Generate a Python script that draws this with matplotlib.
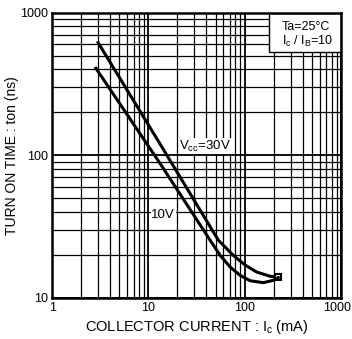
import matplotlib
matplotlib.use('Agg')
from matplotlib import pyplot as plt
from matplotlib import transforms
from matplotlib.patches import Rectangle
from matplotlib.ticker import FixedLocator, NullFormatter

plt.rcParams['font.family'] = ['Liberation Sans', 'DejaVu Sans']

# (Ic in mA, ton in ns)
ic_30v = [3.0, 12.2, 53.2, 76, 101, 133, 183, 223]
ton_30v = [616, 131, 25.4, 19.9, 17.0, 15.2, 14.2, 14.0]
ic_10v = [2.85, 13.2, 43.7, 55.5, 70.4, 89.5, 114, 156, 198, 223]
ton_10v = [407, 87.7, 25.4, 19.9, 16.5, 14.4, 13.2, 12.8, 13.3, 13.9]

x_ticks = [1, 10, 100, 1000]
y_ticks = [10, 100, 1000]

fig = plt.figure(figsize=(3.52, 3.39), dpi=100)
ax = fig.add_axes([0.148, 0.121, 0.821, 0.842])
ax.set_xscale('log')
ax.set_yscale('log')
ax.set_xlim(1, 1000)
ax.set_ylim(10, 1000)

minors = [m * d for d in (1, 10, 100) for m in range(2, 10)]
ax.xaxis.set_minor_locator(FixedLocator(minors))
ax.yaxis.set_minor_locator(FixedLocator([m for m in minors if m >= 10]))
ax.xaxis.set_minor_formatter(NullFormatter())
ax.yaxis.set_minor_formatter(NullFormatter())
ax.set_xticks(x_ticks)
ax.set_xticklabels([str(v) for v in x_ticks])
ax.set_yticks(y_ticks)
ax.set_yticklabels([str(v) for v in y_ticks])
ax.tick_params(which='both', length=0, labelsize=9, pad=3)

# last x label sits at the figure edge, keep it inside
last = ax.get_xticklabels()[-1]
last.set_horizontalalignment('right')
last.set_transform(last.get_transform() + transforms.ScaledTranslation(0.1, 0, fig.dpi_scale_trans))

ax.grid(which='major', color='black', lw=1.3)
ax.grid(which='minor', color='black', lw=0.9)
ax.set_axisbelow(True)
for s in ax.spines.values():
    s.set_linewidth(1.8)

ax.plot(ic_30v, ton_30v, color='black', lw=2.2, zorder=3,
        marker='s', markevery=[len(ic_30v) - 1], ms=4, mfc='white', mew=1.5)
ax.plot(ic_10v, ton_10v, color='black', lw=2.2, zorder=3)

# condition box in the top right corner
ax.add_patch(Rectangle((0.751, 0.861), 0.249, 0.139, transform=ax.transAxes,
                       facecolor='white', edgecolor='black', lw=1.0, zorder=2))
ax.text(0.796, 0.949, 'Ta=25°C', transform=ax.transAxes, fontsize=9,
        va='center', ha='left', zorder=4)
ax.text(0.796, 0.9, r'I$\mathregular{_c}$ / I$\mathregular{_B}$=10',
        transform=ax.transAxes, fontsize=9, va='center', ha='left', zorder=4)

ax.text(0.53, 0.532, r'V$\mathregular{_{cc}}$=30V', transform=ax.transAxes,
        fontsize=9.5, ha='center', va='center', zorder=4,
        bbox=dict(facecolor='white', edgecolor='none', pad=0.5))
ax.text(0.384, 0.29, '10V', transform=ax.transAxes, fontsize=9.5,
        ha='center', va='center', zorder=4,
        bbox=dict(facecolor='white', edgecolor='none', pad=0.5))

ax.set_xlabel('COLLECTOR CURRENT : I$\\mathregular{_c}$ (mA)', fontsize=10.5, labelpad=3)
ax.set_ylabel('TURN ON TIME : ton (ns)', fontsize=10, labelpad=1)

fig.savefig('out.png', dpi=100)
